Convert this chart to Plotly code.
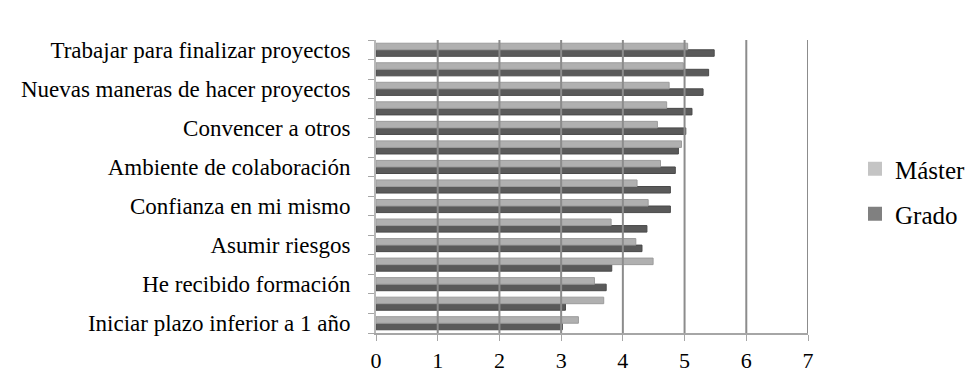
import plotly.graph_objects as go

# Categories from bottom (index 0) to top (index 14); only every other label is shown
labels = ["Iniciar plazo inferior a 1 año", "", "He recibido formación", "",
          "Asumir riesgos", "", "Confianza en mi mismo", "",
          "Ambiente de colaboración", "", "Convencer a otros", "",
          "Nuevas maneras de hacer proyectos", "", "Trabajar para finalizar proyectos"]
master = [3.28, 3.69, 3.54, 4.49, 4.21, 3.81, 4.41, 4.23, 4.61, 4.95, 4.56, 4.71, 4.75, 4.98, 5.05]
grado = [3.02, 3.07, 3.73, 3.82, 4.31, 4.39, 4.77, 4.77, 4.85, 4.90, 5.02, 5.12, 5.30, 5.39, 5.48]
x_ticks = [0, 1, 2, 3, 4, 5, 6, 7]

pos = list(range(len(labels)))
shown_vals = [p for p, l in zip(pos, labels) if l]
shown_text = [l for l in labels if l]

FONT = "Times New Roman, Liberation Serif, DejaVu Serif, serif"
W, H = 968, 374

fig = go.Figure()
fig.add_trace(go.Bar(y=pos, x=grado, orientation="h", name="Grado",
                     marker=dict(color="#5a5a5a", line=dict(color="#4a4a4a", width=1)),
                     showlegend=False))
fig.add_trace(go.Bar(y=pos, x=master, orientation="h", name="Máster",
                     marker=dict(color="#b0b0b0", line=dict(color="#9c9c9c", width=1)),
                     showlegend=False))
# legend entries
fig.add_trace(go.Scatter(x=[None], y=[None], mode="markers", name="Máster",
                         marker=dict(symbol="square", size=14, color="#c4c4c4"),
                         legend="legend"))
fig.add_trace(go.Scatter(x=[None], y=[None], mode="markers", name="Grado",
                         marker=dict(symbol="square", size=14, color="#808080"),
                         legend="legend2"))

# vertical gridlines drawn over the bars (as in the 3D original)
for v in x_ticks[1:]:
    fig.add_shape(type="line", xref="x", yref="paper", x0=v, x1=v, y0=0, y1=1,
                  line=dict(color="#8c8c8c", width=2), layer="above")

fig.update_layout(
    width=W, height=H,
    margin=dict(l=376, r=160, t=40, b=41, autoexpand=False),
    paper_bgcolor="white", plot_bgcolor="white",
    barmode="group", bargap=0.33, bargroupgap=0.0,
    font=dict(family=FONT, size=23, color="black"),
    xaxis=dict(range=[0, 7], tickvals=x_ticks, ticktext=[str(v) for v in x_ticks],
               showgrid=False,
               zeroline=False, showline=True, linecolor="#a6a6a6", linewidth=2,
               ticks="outside", ticklen=6, tickcolor="#a6a6a6", tickwidth=1,
               tickfont=dict(family=FONT, size=22), ticklabelstandoff=1, fixedrange=True),
    yaxis=dict(range=[-0.5, 14.5], tickvals=shown_vals, ticktext=shown_text,
               showgrid=False, zeroline=False, showline=True, linecolor="#b8b8b8", linewidth=2,
               ticks="", ticklabelstandoff=19,
               minor=dict(tickvals=[p - 0.5 for p in pos] + [14.5], ticks="outside",
                          ticklen=6, tickcolor="#a6a6a6", tickwidth=1, showgrid=False),
               tickfont=dict(family=FONT, size=23), fixedrange=True),
    legend=dict(xref="container", yref="container", x=855 / W, y=1 - 169 / H,
                xanchor="left", yanchor="middle", font=dict(family=FONT, size=25),
                bgcolor="rgba(0,0,0,0)", itemwidth=30),
    legend2=dict(xref="container", yref="container", x=855 / W, y=1 - 214 / H,
                 xanchor="left", yanchor="middle", font=dict(family=FONT, size=25),
                 bgcolor="rgba(0,0,0,0)", itemwidth=30),
)

fig.write_html("out.html")
